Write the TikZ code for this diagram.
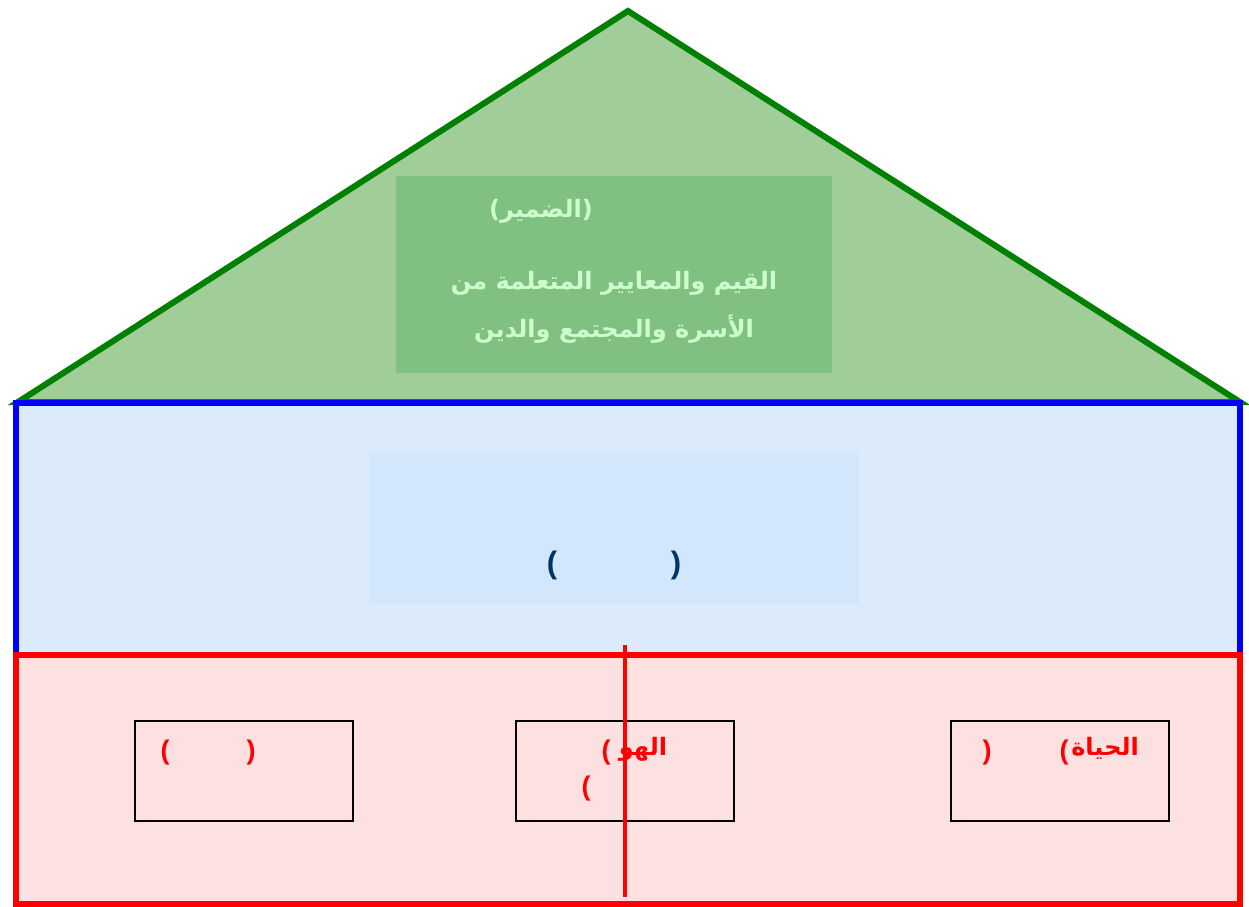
\documentclass[tikz,border=0pt]{standalone}
\usepackage{fontspec}
\TeXXeTstate=1
\newfontfamily\arabicfont[Script=Arabic]{DejaVu Sans}
\newfontfamily\parfont{Liberation Sans}
\definecolor{roofline}{HTML}{008000}
\definecolor{rooffill}{HTML}{A0CD98}
\definecolor{roofbox}{HTML}{80C080}
\definecolor{rooftext}{HTML}{CCFFCC}
\definecolor{midline}{HTML}{0000FF}
\definecolor{midfill}{HTML}{DCEBFC}
\definecolor{midbox}{HTML}{D3E7FC}
\definecolor{midtext}{HTML}{003366}
\definecolor{lowline}{HTML}{FF0000}
\definecolor{lowfill}{HTML}{FDE0E0}
\tikzset{
  ar/.style={font=\arabicfont\bfseries\fontsize{24}{28}\selectfont, inner sep=0pt},
  roofstyle/.style={ar, text=rooftext},
  redtext/.style={ar, text=lowline},
  redparen/.style={inner sep=0pt, text=lowline, font=\parfont\bfseries\fontsize{27}{30}\selectfont},
  blueparen/.style={inner sep=0pt, text=midtext, font=\parfont\bfseries\fontsize{31}{34}\selectfont},
  idbox/.style={draw=black, line width=2pt, fill=none}
}
\begin{document}
\begin{tikzpicture}[x=1pt,y=-1pt]
\useasboundingbox (0,0) rectangle (1249,906);
% roof
\filldraw[fill=rooffill, draw=roofline, line width=6pt, line join=miter] (628,11) -- (1240,402) -- (18,402) -- cycle;
\fill[roofbox] (396,176) rectangle (832,373);
\node[roofstyle] (conscience) at (541,211) {\beginR(الضمير)\endR};
\node[roofstyle] (line1) at (614,283) {\beginR القيم والمعايير المتعلمة من\endR};
\node[roofstyle] (line2) at (614,329) {\beginR الأسرة والمجتمع والدين\endR};
% middle
\filldraw[fill=midfill, draw=midline, line width=6pt] (16,403) rectangle (1240,655);
\fill[midbox] (369,453) rectangle (859,604);
\node[blueparen] (bl) at (552,565) {(};
\node[blueparen] (br) at (676,565) {)};
% lower
\filldraw[fill=lowfill, draw=lowline, line width=6pt] (16,655) rectangle (1240,904);
\draw[idbox] (135,721) rectangle (353,821);
\draw[idbox] (516,721) rectangle (734,821);
\draw[idbox] (951,721) rectangle (1169,821);
\draw[lowline, line width=4pt] (625,645) -- (625,897);
\node[redparen] (l1) at (165,753) {(};
\node[redparen] (l2) at (251,753) {)};
\node[redtext] (m1) at (643,749) {\beginR الهو\endR};
\node[redparen] (m2) at (606,753) {(};
\node[redparen] (m3) at (586,789) {(};
\node[redtext, anchor=east] (r1) at (1139,748) {\beginR الحياة\endR};
\node[redparen] (r2) at (1064,753) {(};
\node[redparen] (r3) at (987,753) {)};
\end{tikzpicture}
\end{document}
